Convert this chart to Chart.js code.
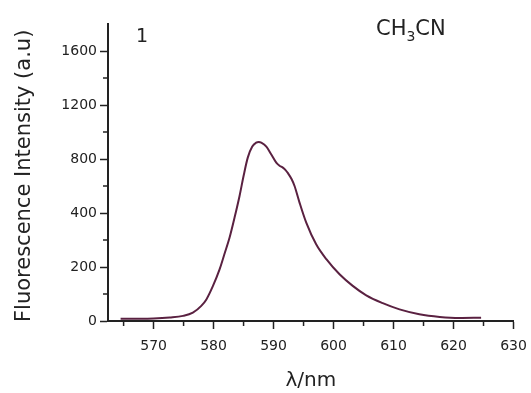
<!DOCTYPE html>
<html>
<head>
<meta charset="utf-8">
<script src="https://cdn.jsdelivr.net/npm/chart.js@4/dist/chart.umd.min.js"></script>
<style>
  html, body { margin: 0; padding: 0; background: #fff; }
  canvas { display: block; }
</style>
</head>
<body>
<canvas id="c" width="531" height="393"></canvas>
<script>
// ---- data ----
const wavelength = [564.5, 568, 570, 572.7, 574.9, 576.55, 577.95, 578.8, 579.9, 581.0, 581.8, 582.67, 583.5, 584.33, 585.0, 585.7, 586.45, 587.1, 587.55, 587.95, 588.8, 589.6, 590.45, 591.0, 591.55, 592.0, 592.4, 593.0, 593.5, 594.33, 595.45, 597.1, 598.8, 601.0, 603.2, 605.45, 608.2, 611.0, 614.3, 617.7, 621.0, 624.6];
const intensity  = [8, 8, 9, 13, 19, 31, 56, 80, 130, 191, 247, 309, 383, 526, 674, 810, 892, 921, 926, 921, 892, 835, 773, 750, 736, 718, 695, 652, 600, 477, 364, 284, 229, 173, 130, 95, 66, 43, 25, 15, 11, 12];

const xTicks = [565, 570, 575, 580, 585, 590, 595, 600, 605, 610, 615, 620, 625, 630];
const xLabeled = [570, 580, 590, 600, 610, 620, 630];
const yTicks = [0, 100, 200, 300, 400, 600, 800, 1000, 1200, 1400, 1600];
const yLabeled = [0, 200, 400, 800, 1200, 1600];   // evenly spaced on the original axis

// piecewise mapping: labelled values sit at equal spacing
function toPos(v) {
  const b = yLabeled;
  for (let i = 0; i < b.length - 1; i++) {
    if (v <= b[i + 1] || i === b.length - 2) return i + (v - b[i]) / (b[i + 1] - b[i]);
  }
}
function fromPos(p) {
  const b = yLabeled;
  let i = Math.min(Math.max(Math.floor(p), 0), b.length - 2);
  return b[i] + (p - i) * (b[i + 1] - b[i]);
}

class BrokenLinear extends Chart.LinearScale {
  buildTicks() { return yTicks.map(v => ({ value: v })); }
  getPixelForValue(v) {
    const a = toPos(this.min), b = toPos(this.max);
    return this.getPixelForDecimal((toPos(v) - a) / (b - a));
  }
  getValueForPixel(px) {
    const a = toPos(this.min), b = toPos(this.max);
    return fromPos(a + this.getDecimalForPixel(px) * (b - a));
  }
}
BrokenLinear.id = 'brokenLinear';
BrokenLinear.defaults = Chart.LinearScale.defaults;
Chart.register(BrokenLinear);

const INK = '#222222';
const FONT = 'DejaVu Sans';

const minorTicks = {
  id: 'minorTicks',
  afterDraw(chart) {
    const ctx = chart.ctx;
    ctx.save();
    ctx.strokeStyle = INK;
    ctx.lineWidth = 1.5;
    const xs = chart.scales.x, ys = chart.scales.y;
    xs.ticks.forEach(t => {
      if (xLabeled.includes(t.value)) return;
      const px = xs.getPixelForValue(t.value);
      ctx.beginPath(); ctx.moveTo(px, xs.top); ctx.lineTo(px, xs.top + 5); ctx.stroke();
    });
    ys.ticks.forEach(t => {
      if (yLabeled.includes(t.value)) return;
      const py = ys.getPixelForValue(t.value);
      ctx.beginPath(); ctx.moveTo(ys.right, py); ctx.lineTo(ys.right - 5, py); ctx.stroke();
    });
    ctx.restore();
  }
};

const annotations = {
  id: 'annotations',
  afterDraw(chart) {
    const ctx = chart.ctx;
    ctx.save();
    ctx.fillStyle = INK;
    ctx.textBaseline = 'alphabetic';
    ctx.textAlign = 'left';
    ctx.font = '19px "' + FONT + '"';
    ctx.fillText('1', 136, 42);
    let x = 376;
    ctx.font = '21px "' + FONT + '"';
    ctx.fillText('CH', x, 35); x += ctx.measureText('CH').width;
    ctx.font = '14px "' + FONT + '"';
    ctx.fillText('3', x, 41); x += ctx.measureText('3').width;
    ctx.font = '21px "' + FONT + '"';
    ctx.fillText('CN', x, 35);
    ctx.restore();
  }
};

new Chart(document.getElementById('c'), {
  type: 'line',
  data: {
    datasets: [{
      data: wavelength.map((x, i) => ({ x: x, y: intensity[i] })),
      borderColor: '#5a2141',
      borderWidth: 2,
      pointRadius: 0,
      cubicInterpolationMode: 'monotone',
      clip: false
    }]
  },
  options: {
    responsive: false,
    animation: false,
    devicePixelRatio: 1,
    layout: { padding: { left: 0, top: 24, right: 17.5, bottom: 0 } },
    plugins: { legend: { display: false }, tooltip: { enabled: false } },
    scales: {
      x: {
        type: 'linear',
        min: 562.4,
        max: 630,
        afterBuildTicks: s => { s.ticks = xTicks.map(v => ({ value: v })); },
        afterFit: s => { s.height = 72; s.paddingRight = 0; s.paddingLeft = 0; },
        grid: {
          drawOnChartArea: false,
          tickLength: 8,
          tickWidth: 1.5,
          tickColor: c => (c.tick && xLabeled.includes(c.tick.value)) ? INK : 'rgba(0,0,0,0)'
        },
        border: { color: INK, width: 2 },
        ticks: {
          autoSkip: false,
          maxRotation: 0,
          padding: 9,
          color: INK,
          font: { family: FONT, size: 14 },
          callback: v => xLabeled.includes(v) ? String(v) : ''
        },
        title: {
          display: true,
          text: 'λ/nm',
          color: INK,
          font: { family: FONT, size: 20 },
          padding: { top: 0, bottom: 0 }
        }
      },
      y: {
        type: 'brokenLinear',
        min: 0,
        max: 1800,
        afterFit: s => { s.width = 108; },
        grid: {
          drawOnChartArea: false,
          tickLength: 8,
          tickWidth: 1.5,
          tickColor: c => (c.tick && yLabeled.includes(c.tick.value)) ? INK : 'rgba(0,0,0,0)'
        },
        border: { color: INK, width: 2 },
        ticks: {
          autoSkip: false,
          padding: 3,
          color: INK,
          font: { family: FONT, size: 14 },
          callback: v => yLabeled.includes(v) ? String(v) : ''
        },
        title: {
          display: true,
          text: 'Fluorescence Intensity (a.u) ',
          color: INK,
          font: { family: FONT, size: 21 },
          padding: { top: 12, bottom: 0 }
        }
      }
    }
  },
  plugins: [minorTicks, annotations]
});
</script>
</body>
</html>
